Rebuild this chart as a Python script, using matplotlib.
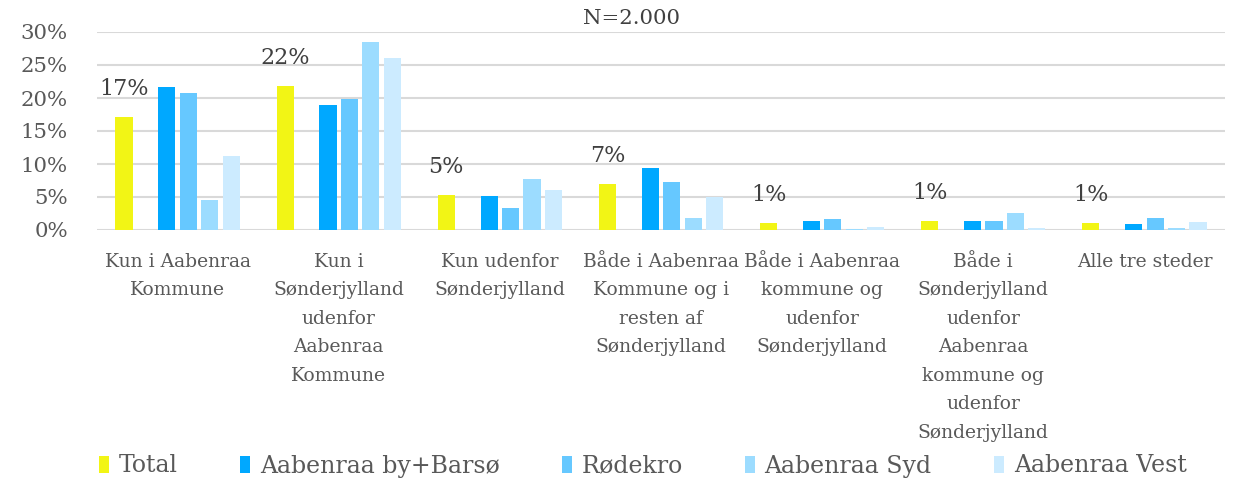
import matplotlib
matplotlib.use("Agg")
import matplotlib.pyplot as plt
import numpy as np
from matplotlib.patches import Patch

categories = ["Kun i Aabenraa\nKommune",
              "Kun i\nSønderjylland\nudenfor\nAabenraa\nKommune",
              "Kun udenfor\nSønderjylland",
              "Både i Aabenraa\nKommune og i\nresten af\nSønderjylland",
              "Både i Aabenraa\nkommune og\nudenfor\nSønderjylland",
              "Både i\nSønderjylland\nudenfor\nAabenraa\nkommune og\nudenfor\nSønderjylland",
              "Alle tre steder"]
series_names = ["Total", "Aabenraa by+Barsø", "Rødekro", "Aabenraa Syd", "Aabenraa Vest"]
total = [17.1, 21.8, 5.3, 7.0, 1.1, 1.4, 1.1]
by_barsoe = [21.6, 19.0, 5.1, 9.4, 1.3, 1.3, 0.9]
roedekro = [20.8, 19.8, 3.4, 7.3, 1.7, 1.4, 1.8]
syd = [4.6, 28.5, 7.8, 1.8, 0.2, 2.5, 0.3]
vest = [11.2, 26.1, 6.1, 5.0, 0.4, 0.3, 1.2]
colors = ["#F2F515", "#00A8FF", "#66C8FF", "#9CDCFF", "#CCEBFF"]
slots = [0, 2, 3, 4, 5]

plt.rcParams['font.family'] = ['DejaVu Serif']

fig = plt.figure(figsize=(12.36, 4.79), dpi=100)
ax = fig.add_axes([97/1236, 1 - 230/479, (1225-97)/1236, (230-32)/479])

x = np.arange(len(categories))
slot_w = 0.133
bar_w = 0.106
data = [total, by_barsoe, roedekro, syd, vest]
for s, vals, col, name in zip(slots, data, colors, series_names):
    pos = x + (s - 2.5) * slot_w
    ax.bar(pos, vals, width=bar_w, color=col, label=name, zorder=3)
    if name == "Total":
        for px, v in zip(pos, vals):
            ax.annotate(f"{round(v):.0f}%", (px, v), xytext=(0, 12), textcoords="offset points",
                        ha="center", va="bottom", fontsize=16, color="#404040")

ax.set_xlim(-0.5, len(categories) - 0.5)
ax.set_ylim(0, 30)
ax.set_yticks(np.arange(0, 31, 5))
ax.set_yticklabels([f"{v}%" for v in range(0, 31, 5)], fontsize=15.3, color="#595959")
ax.set_xticks(x)
ax.set_xticklabels(categories, fontsize=13.5, color="#595959", linespacing=1.75)
ax.tick_params(axis='both', length=0)
ax.tick_params(axis='x', pad=16.5)
ax.tick_params(axis='y', pad=21)
for sp in ax.spines.values():
    sp.set_visible(False)
ax.yaxis.grid(True, color="#D9D9D9", linewidth=1.5, zorder=0)
ax.set_axisbelow(True)

fig.text(632/1236, 1 - 18/479, "N=2.000", ha="center", va="center", fontsize=15.3, color="#404040")

handles = [Patch(facecolor=c, label=n) for c, n in zip(colors, series_names)]
fig.legend(handles=handles, loc="center", bbox_to_anchor=(643/1236, 1 - 466/479), ncol=5,
           frameon=False, fontsize=17, handlelength=0.42, handleheight=0.75, handletextpad=0.4,
           columnspacing=2.65, labelcolor="#595959")

fig.savefig("out.png", dpi=100)
